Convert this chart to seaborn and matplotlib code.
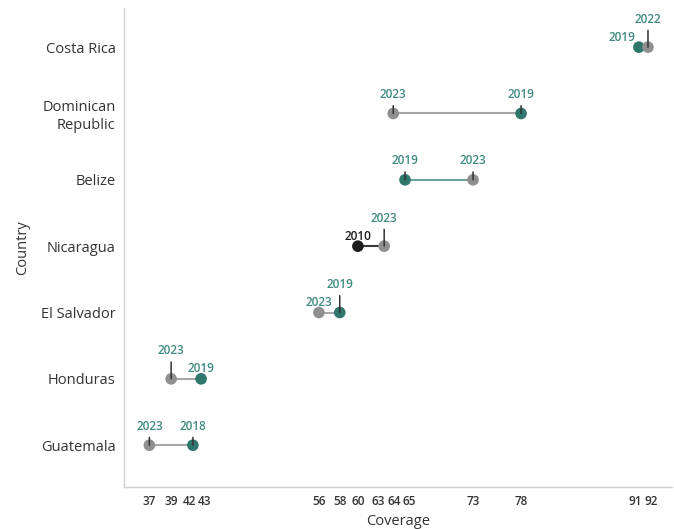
import matplotlib
matplotlib.use("Agg")
import matplotlib.pyplot as plt
import matplotlib.transforms as mtransforms
import seaborn as sns
import pandas as pd

# ---- data ----
countries = ["Costa Rica", "Dominican\nRepublic", "Belize", "Nicaragua",
             "El Salvador", "Honduras", "Guatemala"]
year_a = [2019, 2023, 2019, 2010, 2023, 2023, 2023]
value_a = [91.0, 63.9, 65.2, 60.0, 55.7, 39.4, 37.0]
year_b = [2022, 2019, 2023, 2023, 2019, 2019, 2018]
value_b = [92.0, 78.0, 72.7, 62.9, 58.0, 42.7, 41.8]

# ---- styles ----
TEAL = "#2f766d"
GRAY = "#8f8f8f"
BLACK = "#1c1c1c"
LABEL_TEAL = "#3f8a80"
year_colors = {"2010": BLACK, "2018": TEAL, "2019": TEAL, "2022": GRAY, "2023": GRAY}
line_colors = {"2010": "#3a3a3a", "2018": "#a6a6a6", "2019": "#6aa39b",
               "2022": "#a6a6a6", "2023": "#a6a6a6"}
# label placement style per (country index, which point)
place_a = ["left", "low", "low", "plain", "plain", "high", "low"]
place_b = ["high", "low", "low", "high", "high", "plain", "low"]

sns.set_theme(style="white")
plt.rcParams["font.family"] = ["Open Sans", "DejaVu Sans"]

fig = plt.figure(figsize=(6.74, 5.29), dpi=100)
ax = fig.add_axes([124 / 674, 1 - 487 / 529, (672 - 124) / 674, (487 - 8) / 529])

rows = []
for i, c in enumerate(countries):
    rows.append({"country": c, "year": str(year_a[i]), "value": value_a[i], "idx": i})
    rows.append({"country": c, "year": str(year_b[i]), "value": value_b[i], "idx": i})
df = pd.DataFrame(rows)

# connecting lines (color = colour of left-most point)
for i, c in enumerate(countries):
    left_year = str(year_a[i]) if value_a[i] <= value_b[i] else str(year_b[i])
    ax.plot([value_a[i], value_b[i]], [i, i], color=line_colors[left_year],
            lw=1.5, zorder=1, solid_capstyle="butt")

sns.scatterplot(data=df, x="value", y="idx", hue="year", palette=year_colors,
                s=70, edgecolor="none", legend=False, ax=ax, zorder=3)

offsets = {"low": (0, 19), "high": (0, 28), "plain": (0, 10), "left": (-17, 10)}


def add_label(x, y, year, style):
    dx, dy = offsets[style]
    col = BLACK if year == 2010 else LABEL_TEAL
    kw = dict(xy=(x, y), xytext=(dx, dy), textcoords="offset pixels",
              ha="center", va="center", fontsize=8.5, color=col,
              fontweight="semibold", zorder=4)
    if style in ("low", "high"):
        kw["arrowprops"] = dict(arrowstyle="-", color="#333333", lw=1.1,
                                shrinkA=1, shrinkB=0)
    ax.annotate(str(year), **kw)


for i in range(len(countries)):
    add_label(value_a[i], i, year_a[i], place_a[i])
    add_label(value_b[i], i, year_b[i], place_b[i])

ax.set_ylim(len(countries) - 1 + 0.63, -0.59)
ax.set_xlim(34.2, 94.65)
ax.set_yticks(range(len(countries)))
ax.set_yticklabels(countries, fontsize=10.5, color="#333333")
tick_vals = sorted(value_a + value_b)
ax.set_xticks(tick_vals)
ax.set_xticklabels([f"{v:.0f}" for v in tick_vals], fontsize=8.5,
                   color="#333333", fontweight="semibold")
ax.tick_params(axis="both", length=0)
ax.tick_params(axis="x", pad=6)
ax.tick_params(axis="y", pad=6)
ax.set_xlabel("Coverage", fontsize=10.5, color="#333333", labelpad=4)
ax.set_ylabel("Country", fontsize=10.5, color="#333333", labelpad=8)
for s in ("top", "right"):
    ax.spines[s].set_visible(False)
for s in ("left", "bottom"):
    ax.spines[s].set_color("#d0d0d0")
    ax.spines[s].set_linewidth(1.0)

# spread crowded x tick labels apart
fig.canvas.draw()
renderer = fig.canvas.get_renderer()
ticks = ax.xaxis.get_major_ticks()
info = []
for t in ticks:
    bb = t.label1.get_window_extent(renderer)
    info.append([(bb.x0 + bb.x1) / 2, bb.width, t])
info.sort(key=lambda r: r[0])
centers = [r[0] for r in info]
new = centers[:]
for _ in range(50):
    for k in range(len(new) - 1):
        need = (info[k][1] + info[k + 1][1]) / 2 + 2
        gap = new[k + 1] - new[k]
        if gap < need:
            d = (need - gap) / 2
            new[k] -= d
            new[k + 1] += d
for r, nc, oc in zip(info, new, centers):
    dx = (nc - oc) / fig.dpi
    if abs(dx) > 1e-6:
        lab = r[2].label1
        lab.set_transform(lab.get_transform() +
                          mtransforms.ScaledTranslation(dx, 0, fig.dpi_scale_trans))

fig.savefig("out.png", dpi=100)
